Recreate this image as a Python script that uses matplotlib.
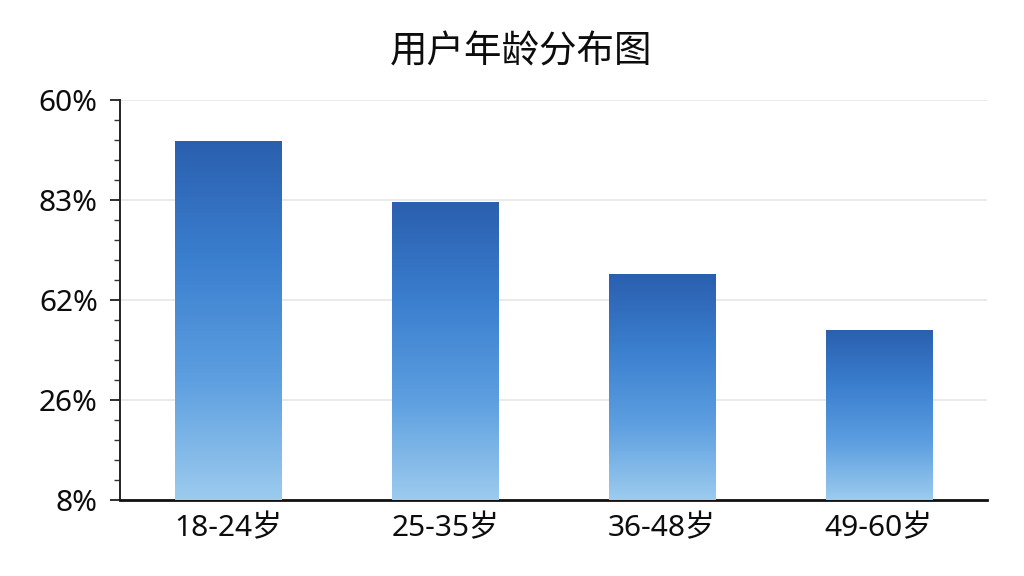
import numpy as np
import matplotlib.pyplot as plt
from matplotlib.colors import LinearSegmentedColormap

plt.rcParams['font.family'] = ['Noto Sans', 'Noto Sans CJK SC', 'DejaVu Sans']

# data (bar height as % of the axis range)
categories = ['18-24岁', '25-35岁', '36-48岁', '49-60岁']
values = [89.8, 74.4, 56.4, 42.6]
tick_pos = [0, 25, 50, 75, 100]
tick_labels = ['8%', '26%', '62%', '83%', '60%']
title = '用户年龄分布图'

grad = LinearSegmentedColormap.from_list(
    'bar_grad', ['#9ccbee', '#5d9fe0', '#3b7fcf', '#2a5fae'])

fig = plt.figure(figsize=(10.24, 5.76), dpi=100)
ax = fig.add_axes([0.1172, 0.1319, 0.8467, 0.6945])

x = np.arange(len(categories))
bars = ax.bar(x, values, width=0.49, color='none', edgecolor='none', zorder=3)

# gradient fill, dark at the top of each bar
g = np.linspace(0, 1, 256).reshape(-1, 1)
for b in bars:
    x0, y0 = b.get_x(), b.get_y()
    w, h = b.get_width(), b.get_height()
    im = ax.imshow(g, cmap=grad, origin='lower', aspect='auto',
                   extent=[x0, x0 + w, y0, y0 + h], zorder=3)
    im.set_clip_path(b)

ax.set_xlim(-0.5, len(categories) - 0.5)
ax.set_ylim(0, 100)
ax.set_xticks(x)
ax.set_xticklabels(categories, fontsize=21.5)
ax.set_yticks(tick_pos)
ax.set_yticklabels(tick_labels, fontsize=21.5)
ax.set_yticks(np.arange(0, 100, 5), minor=True)

ax.tick_params(axis='x', length=0, pad=10, colors='#0d0d0d')
ax.tick_params(axis='y', which='major', length=7, width=1.2, pad=9, colors='#0d0d0d')
ax.tick_params(axis='y', which='minor', length=4, width=1.0, color='#333333')

ax.grid(axis='y', color='#e6e6e6', lw=1.2, zorder=0)
for s in ['top', 'right']:
    ax.spines[s].set_visible(False)
ax.spines['left'].set_color('#222222')
ax.spines['left'].set_linewidth(1.4)
ax.spines['bottom'].set_color('#111111')
ax.spines['bottom'].set_linewidth(2)

fig.text(0.509, 0.91, title, ha='center', va='center', fontsize=27,
         color='#0d0d0d', fontweight='medium',
         family=['Noto Sans CJK SC', 'DejaVu Sans'])

fig.savefig('out.png', dpi=100)
